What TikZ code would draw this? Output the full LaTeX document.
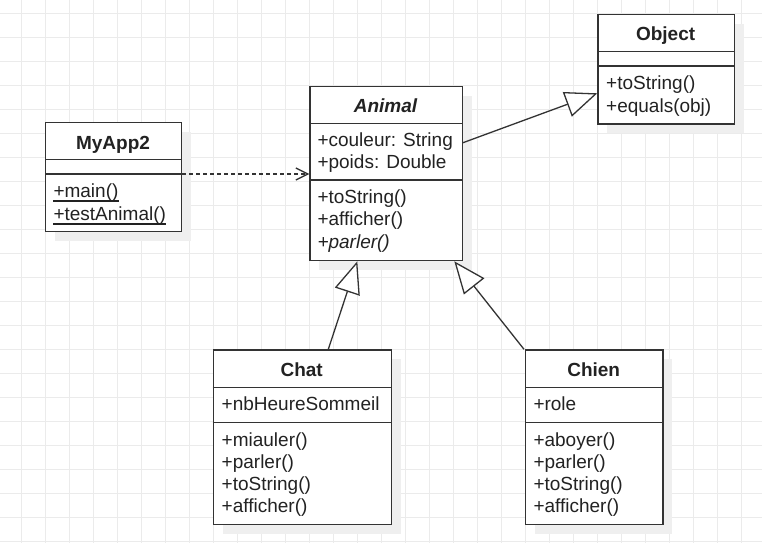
\documentclass[tikz,border=0pt]{standalone}
\usepackage{fontspec}
\setmainfont{Liberation Sans}
\usetikzlibrary{arrows.meta,calc}
\definecolor{gridc}{HTML}{EBEBEB}
\definecolor{linec}{HTML}{333333}
\definecolor{textc}{HTML}{222222}
\definecolor{shadowc}{HTML}{EFEFEF}
\tikzset{
  classbox/.style={draw=linec, line width=1.3pt, fill=white, inner sep=0pt, anchor=north west},
  shadowbox/.style={fill=shadowc, draw=none},
  divline/.style={draw=linec, line width=1.3pt},
  member/.style={anchor=base west, inner sep=0pt, text=textc, font=\fontsize{19}{22}\selectfont},
  ctitle/.style={anchor=base, inner sep=0pt, text=textc, font=\fontsize{19}{22}\selectfont\bfseries},
  inherit/.style={draw=linec, line width=1.3pt, -{Triangle[open, length=32pt, width=26pt, fill=white]}},
  depend/.style={draw=linec, line width=1.3pt, dash pattern=on 4pt off 3pt, -{Straight Barb[length=12pt, width=12pt, line width=1.3pt]}},
  uline/.style={draw=textc, line width=1.2pt}
}
\begin{document}
\begin{tikzpicture}[x=1pt,y=-1pt]
\useasboundingbox (0,0) rectangle (762,543);
\fill[white] (0,0) rectangle (762,543);
% grid
\foreach \k in {0,...,30} { \draw[gridc, line width=1.2pt] (21.5+24*\k,0) -- (21.5+24*\k,543); }
\foreach \k in {0,...,22} { \draw[gridc, line width=1.2pt] (0,13.5+24*\k) -- (762,13.5+24*\k); }

% shadows
\fill[shadowbox] (55,131.7) rectangle (191,241);
\fill[shadowbox] (319.3,96) rectangle (471.7,270);
\fill[shadowbox] (607.3,24) rectangle (744,133.3);
\fill[shadowbox] (222.7,359.3) rectangle (400.7,534);
\fill[shadowbox] (535,359.3) rectangle (672.3,534);

% MyApp2
\node[classbox, minimum width=136pt, minimum height=109.3pt] (myapp) at (45,121.7) {};
\draw[divline] (45,159.3) -- (181,159.3);
\draw[divline] (45,174) -- (181,174);
\node[ctitle] (myappT) at (113,149) {MyApp2};
\node[member] (myappM1) at (53.3,197.8) {+main()};
\node[member] (myappM2) at (53.3,220.8) {+testAnimal()};
\draw[uline] ([yshift=-3.2pt]myappM1.base west) -- ([yshift=-3.2pt]myappM1.base east);
\draw[uline] ([yshift=-3.2pt]myappM2.base west) -- ([yshift=-3.2pt]myappM2.base east);

% Animal
\node[classbox, minimum width=152.4pt, minimum height=174pt] (animal) at (309.3,86) {};
\draw[divline] (309.3,123.3) -- (461.7,123.3);
\draw[divline] (309.3,180) -- (461.7,180);
\node[ctitle, font=\fontsize{19}{22}\selectfont\bfseries\itshape] (animalT) at (385.5,112.5) {Animal};
\node[member] (animalA1) at (317.3,146.5) {+couleur: String};
\node[member] (animalA2) at (317.3,168.8) {+poids: Double};
\node[member] (animalM1) at (317.3,203.2) {+toString()};
\node[member] (animalM2) at (317.3,225.5) {+afficher()};
\node[member, font=\fontsize{19}{22}\selectfont\itshape] (animalM3) at (317.3,248.2) {+parler()};

% Object
\node[classbox, minimum width=136.7pt, minimum height=109.3pt] (object) at (597.3,14) {};
\draw[divline] (597.3,51.7) -- (734,51.7);
\draw[divline] (597.3,66) -- (734,66);
\node[ctitle] (objectT) at (665.6,40.3) {Object};
\node[member] (objectM1) at (606,89) {+toString()};
\node[member] (objectM2) at (606,112.3) {+equals(obj)};

% Chat
\node[classbox, minimum width=178pt, minimum height=174.7pt] (chat) at (212.7,349.3) {};
\draw[divline] (212.7,387.3) -- (390.7,387.3);
\draw[divline] (212.7,422.3) -- (390.7,422.3);
\node[ctitle] (chatT) at (301.7,376.5) {Chat};
\node[member] (chatA1) at (221.5,410) {+nbHeureSommeil};
\node[member] (chatM1) at (221.5,446) {+miauler()};
\node[member] (chatM2) at (221.5,468.2) {+parler()};
\node[member] (chatM3) at (221.5,490.5) {+toString()};
\node[member] (chatM4) at (221.5,512.7) {+afficher()};

% Chien
\node[classbox, minimum width=137.3pt, minimum height=174.7pt] (chien) at (525,349.3) {};
\draw[divline] (525,387.3) -- (662.3,387.3);
\draw[divline] (525,422.3) -- (662.3,422.3);
\node[ctitle] (chienT) at (593.7,376.5) {Chien};
\node[member] (chienA1) at (533.3,410) {+role};
\node[member] (chienM1) at (533.3,446) {+aboyer()};
\node[member] (chienM2) at (533.3,468.2) {+parler()};
\node[member] (chienM3) at (533.3,490.5) {+toString()};
\node[member] (chienM4) at (533.3,512.7) {+afficher()};

% connectors
\draw[depend] ($(myapp.north east)+(0,52.3)$) -- ($(animal.north west)+(0,88)$);
\draw[inherit] ($(animal.north east)+(0,56.7)$) -- ($(object.north west)+(0,79.3)$);
\draw[inherit] ($(chat.north west)+(115.6,0)$) -- ($(animal.south west)+(48,0)$);
\draw[inherit] ($(chien.north west)+(-1,0)$) -- ($(animal.south west)+(145,0)$);
\end{tikzpicture}
\end{document}
